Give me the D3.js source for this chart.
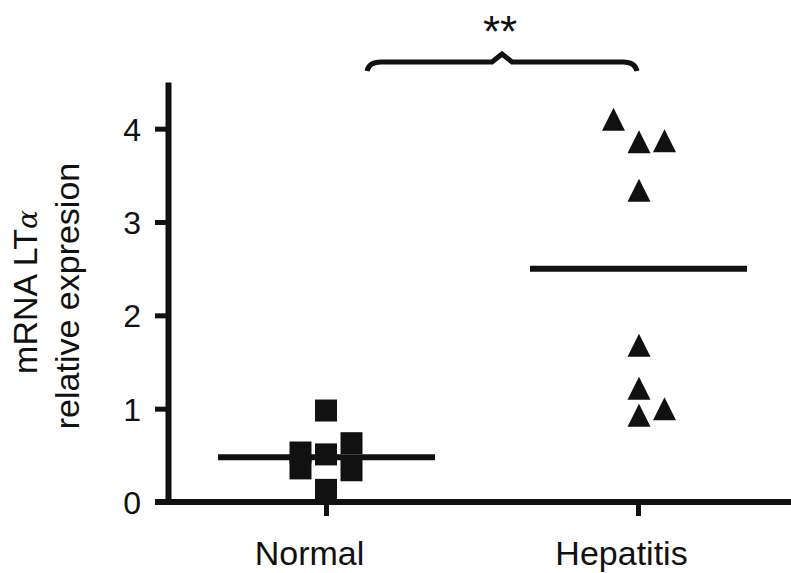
<!DOCTYPE html>
<html>
<head>
<meta charset="utf-8">
<script src="https://cdn.jsdelivr.net/npm/d3@7"></script>
<style>
  body { margin: 0; background: #fff; }
  svg { display: block; font-family: "Liberation Sans", Arial, sans-serif; }
</style>
</head>
<body>
<svg id="chart"></svg>
<script>
// values
var groups = ["Normal", "Hepatitis"];
var normalValues = [0.98, 0.53, 0.36, 0.51, 0.63, 0.34, 0.13];
var normalColumns = [0, -1, -1, 0, 1, 1, 0];
var hepatitisValues = [4.10, 3.86, 3.87, 3.34, 1.68, 1.22, 0.93, 1.00];
var hepatitisColumns = [-1, 0, 1, 0, 0, 0, 0, 1];
var meanValues = [0.48, 2.50];
var yTicks = [0, 1, 2, 3, 4];
var signif = "**";

var screen = {width: 791, height: 573};
var ink = "#111";

var svg = d3.select("#chart")
    .attr("width", screen.width)
    .attr("height", screen.height);

var xScale = d3.scalePoint()
    .domain(groups)
    .range([170, 794])
    .padding(0.5);

var yScale = d3.scaleLinear()
    .domain([0, 4.5])
    .range([502, 82]);

var colStep = 25.5;

// a triangle as tall as it is wide, centred on its box
var boxTriangle = {
    draw: function(context, size) {
        var s = Math.sqrt(size);
        context.moveTo(0, -s / 2);
        context.lineTo(s / 2, s / 2);
        context.lineTo(-s / 2, s / 2);
        context.closePath();
    }
};

// axes
var yAxis = d3.axisLeft(yScale)
    .tickValues(yTicks)
    .tickFormat(d3.format("d"))
    .tickSize(13)
    .tickSizeOuter(0)
    .tickPadding(14);

var xAxis = d3.axisBottom(xScale)
    .tickSize(14)
    .tickSizeOuter(0);

var gx = svg.append("g")
    .attr("transform", "translate(0," + yScale(0) + ")")
    .call(xAxis);
gx.select(".domain")
    .attr("d", "M155,0H" + screen.width);
gx.selectAll("text")
    .attr("y", 63)
    .attr("dy", 0)
    .attr("dx", -17)
    .attr("font-size", 34)
    .attr("font-family", null)
    .attr("fill", ink);

var gy = svg.append("g")
    .attr("transform", "translate(168,0)")
    .call(yAxis);
gy.selectAll("text")
    .attr("font-size", 32)
    .attr("font-family", null)
    .attr("dy", "0.36em")
    .attr("fill", ink);

svg.selectAll(".domain").attr("stroke", ink).attr("stroke-width", 6);
svg.selectAll(".tick line").attr("stroke", ink).attr("stroke-width", 5);

// mean lines
svg.append("g")
    .selectAll("line")
    .data(meanValues)
    .enter()
    .append("line")
    .attr("x1", function(d, i) { return xScale(groups[i]) - 108; })
    .attr("x2", function(d, i) { return xScale(groups[i]) + 109; })
    .attr("y1", function(d) { return yScale(d); })
    .attr("y2", function(d) { return yScale(d); })
    .attr("stroke", ink)
    .attr("stroke-width", 6);

// points
svg.append("g")
    .selectAll("path")
    .data(normalValues)
    .enter()
    .append("path")
    .attr("d", d3.symbol().type(d3.symbolSquare).size(22 * 22))
    .attr("transform", function(d, i) {
        return "translate(" + (xScale("Normal") + normalColumns[i] * colStep) + "," + yScale(d) + ")";
    })
    .attr("fill", ink);

svg.append("g")
    .selectAll("path")
    .data(hepatitisValues)
    .enter()
    .append("path")
    .attr("d", d3.symbol().type(boxTriangle).size(23 * 23))
    .attr("transform", function(d, i) {
        return "translate(" + (xScale("Hepatitis") + 1 + hepatitisColumns[i] * colStep) + "," + yScale(d) + ")";
    })
    .attr("fill", ink);

// significance bracket
var bx0 = xScale("Normal") + 41;
var bx1 = xScale("Hepatitis") - 1;
var bmid = (bx0 + bx1) / 2;
var by = 62;
var bracket = d3.path();
bracket.moveTo(bx0, by + 9);
bracket.quadraticCurveTo(bx0 + 2, by, bx0 + 14, by);
bracket.lineTo(bmid - 10, by);
bracket.lineTo(bmid, by - 8);
bracket.lineTo(bmid + 10, by);
bracket.lineTo(bx1 - 14, by);
bracket.quadraticCurveTo(bx1 - 2, by, bx1, by + 9);

svg.append("path")
    .attr("d", bracket.toString())
    .attr("fill", "none")
    .attr("stroke", ink)
    .attr("stroke-width", 5);

svg.append("text")
    .text(signif)
    .attr("x", bmid - 2)
    .attr("y", 47)
    .attr("text-anchor", "middle")
    .attr("font-size", 44)
    .attr("fill", ink);

// y axis title
var title = svg.append("g")
    .attr("transform", "translate(0,292) rotate(-90)")
    .attr("font-size", 34)
    .attr("fill", ink)
    .attr("text-anchor", "middle");
var line1 = title.append("text")
    .attr("x", 0)
    .attr("y", 37);
line1.append("tspan").text("mRNA LT");
line1.append("tspan").text("α").attr("font-style", "italic").attr("font-family", "DejaVu Serif").attr("font-size", 28);
title.append("text")
    .attr("x", -4)
    .attr("y", 79)
    .text("relative expresion");
</script>
</body>
</html>
